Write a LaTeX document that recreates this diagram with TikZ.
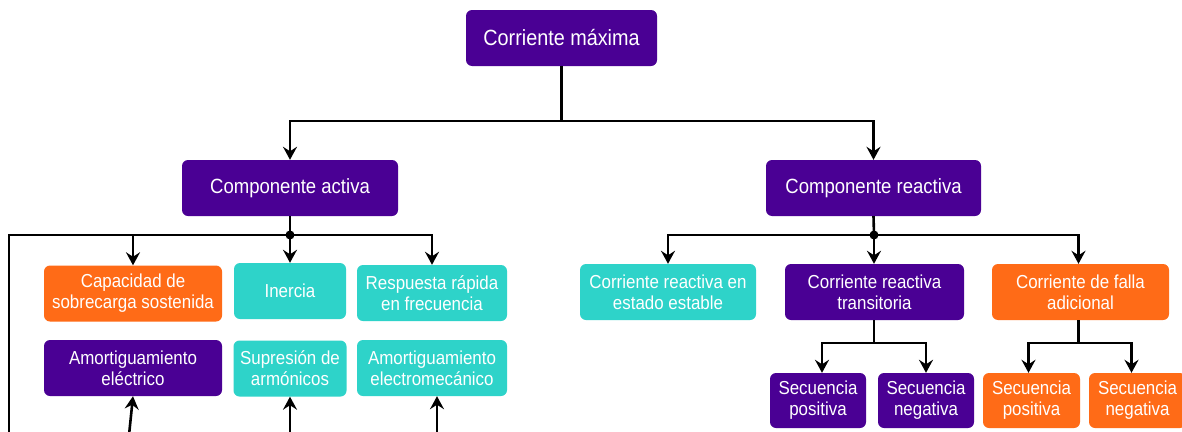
\documentclass[tikz,border=0pt]{standalone}
\usepackage{fontspec}
\setmainfont{Liberation Sans}[FakeStretch=0.9]
\usetikzlibrary{arrows.meta,calc}
\definecolor{cpurple}{HTML}{4A0094}
\definecolor{corange}{HTML}{FF6B17}
\definecolor{cteal}{HTML}{2ED3C9}
\begin{document}
\begin{tikzpicture}[x=1pt,y=-1pt,
 box/.style={rounded corners=6pt, text=white, align=center, inner sep=0pt,
   font=\fontsize{18.8}{21}\selectfont, minimum height=56pt},
 toptext/.style={font=\fontsize{22}{24}\selectfont},
 midtext/.style={font=\fontsize{20.6}{24}\selectfont},
 pbox/.style={box, fill=cpurple},
 obox/.style={box, fill=corange},
 tbox/.style={box, fill=cteal},
 conn/.style={line width=2.6pt, draw=black},
 arr/.style={conn, -{Stealth[length=13pt,width=14pt,inset=4.5pt]}},
 jdot/.style={circle, fill=black, inner sep=0pt, minimum size=9pt}]
\clip (0,0) rectangle (1182,431);
\fill[white] (0,0) rectangle (1182,431);
% nodes
\node[pbox, toptext, minimum width=191pt] (top) at (561.5,38) {Corriente máxima};
\node[pbox, midtext, minimum width=216pt] (act) at (290,188) {Componente activa};
\node[pbox, midtext, minimum width=215pt] (rea) at (873.5,188) {Componente reactiva};
\node[obox, minimum width=178pt] (cap) at (133,293.5) {Capacidad de\\sobrecarga sostenida};
\node[tbox, minimum width=112pt] (ine) at (290,291) {Inercia};
\node[tbox, minimum width=150pt] (res) at (432,293) {Respuesta rápida\\en frecuencia};
\node[pbox, minimum width=178pt] (ame) at (133,368) {Amortiguamiento\\eléctrico};
\node[tbox, minimum width=113pt] (sup) at (290,368.5) {Supresión de\\armónicos};
\node[tbox, minimum width=150pt] (amm) at (432,368) {Amortiguamiento\\electromecánico};
\node[tbox, minimum width=176pt] (cre) at (668,292) {Corriente reactiva en\\estado estable};
\node[pbox, minimum width=179pt] (crt) at (874.5,292) {Corriente reactiva\\transitoria};
\node[obox, minimum width=177pt] (cfa) at (1080.5,292) {Corriente de falla\\adicional};
\node[pbox, minimum width=96pt, minimum height=55pt] (sp1) at (818,400.5) {Secuencia\\positiva};
\node[pbox, minimum width=96pt, minimum height=55pt] (sn1) at (926,400.5) {Secuencia\\negativa};
\node[obox, minimum width=97pt, minimum height=55pt] (sp2) at (1031.5,400.5) {Secuencia\\positiva};
\node[obox, minimum width=97pt, minimum height=55pt] (sn2) at (1137.5,400.5) {Secuencia\\negativa};
% top connectors
\coordinate (j0) at (561.5,121);
\draw[conn] (top.south) -- (j0);
\draw[arr] (j0) -| (act.north);
\draw[arr] (j0) -| (rea.north);
% active branch
\node[jdot] (ja) at (290,235) {};
\coordinate (lb) at (9,445);
\draw[conn] (act.south) -- (ja.center);
\draw[conn] (ja.center) -| (lb);
\draw[arr] (ja.center) -| (cap.north);
\draw[arr] (ja.center) -- (ine.north);
\draw[arr] (ja.center) -| (res.north);
\coordinate (b1) at (128,445);
\coordinate (b2) at (290,445);
\coordinate (b3) at (437,445);
\draw[arr] (b1) -- (ame.south);
\draw[arr] (b2) -- (sup.south);
\draw[arr] (b3) -- ([xshift=5pt]amm.south);
% reactive branch
\node[jdot] (jr) at (874,235) {};
\draw[conn] (rea.south) -- (jr.center);
\draw[arr] (jr.center) -| (cre.north);
\draw[arr] (jr.center) -- (jr.center |- crt.north);
\draw[arr] (jr.center) -| ([xshift=-2pt]cfa.north);
\coordinate (jt) at (874,343);
\draw[conn] (jr.center |- crt.south) -- (jt);
\draw[arr] (jt) -| ([xshift=4pt]sp1.north);
\draw[arr] (jt) -| (sn1.north);
\coordinate (jf) at (1078.5,343);
\draw[conn] ([xshift=-2pt]cfa.south) -- (jf);
\draw[arr] (jf) -| ([xshift=-3pt]sp2.north);
\draw[arr] (jf) -| ([xshift=-6pt]sn2.north);
\end{tikzpicture}
\end{document}
